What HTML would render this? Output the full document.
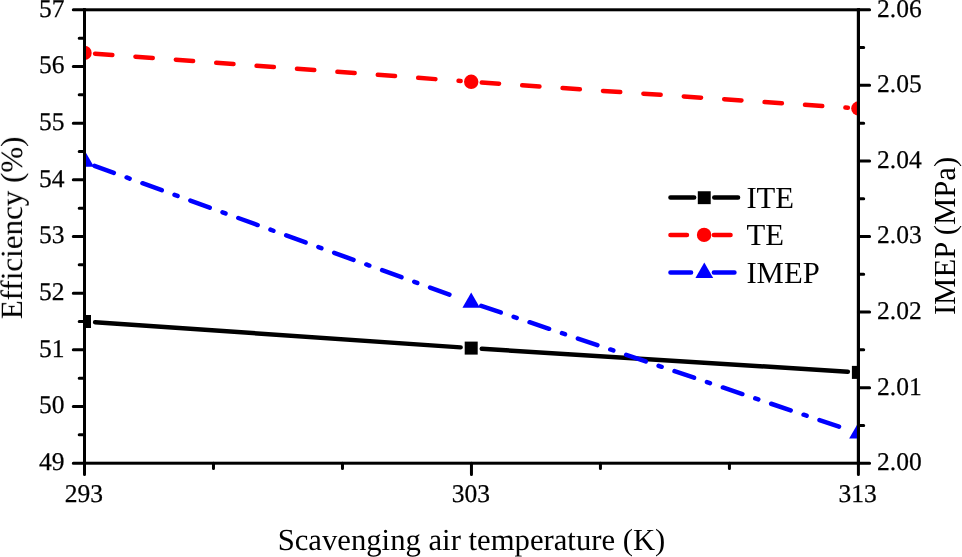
<!DOCTYPE html>
<html><head><meta charset="utf-8"><style>html,body{margin:0;padding:0;background:#fff;overflow:hidden}svg{display:block}g.t{filter:grayscale(1)}text{font-family:"Liberation Serif",serif;text-rendering:geometricPrecision}</style></head>
<body><svg width="962" height="557" viewBox="0 0 962 557"><rect x="0" y="0" width="962" height="557" fill="#fff"/>
<path d="M84.5 463.20H73.3 M84.5 434.86H79.2 M84.5 406.52H73.3 M84.5 378.19H79.2 M84.5 349.85H73.3 M84.5 321.51H79.2 M84.5 293.18H73.3 M84.5 264.84H79.2 M84.5 236.50H73.3 M84.5 208.16H79.2 M84.5 179.82H73.3 M84.5 151.49H79.2 M84.5 123.15H73.3 M84.5 94.81H79.2 M84.5 66.48H73.3 M84.5 38.14H79.2 M84.5 9.80H73.3 M858.4 463.20H869.6 M858.4 425.42H863.6999999999999 M858.4 387.63H869.6 M858.4 349.85H863.6999999999999 M858.4 312.07H869.6 M858.4 274.28H863.6999999999999 M858.4 236.50H869.6 M858.4 198.72H863.6999999999999 M858.4 160.93H869.6 M858.4 123.15H863.6999999999999 M858.4 85.37H869.6 M858.4 47.58H863.6999999999999 M858.4 9.80H869.6 M84.50 463.2V474.4 M471.45 463.2V474.4 M858.40 463.2V474.4 M213.48 463.2V468.5 M342.47 463.2V468.5 M600.43 463.2V468.5 M729.42 463.2V468.5" stroke="#000" stroke-width="3.0" stroke-linecap="round" fill="none"/>
<rect x="84.5" y="9.8" width="773.90" height="453.40" fill="none" stroke="#000" stroke-width="3.0"/>
<defs><clipPath id="pc"><rect x="84.5" y="9.8" width="773.90" height="453.40"/></clipPath></defs>
<g clip-path="url(#pc)">
<path d="M95.08 322.23L460.62 347.37" stroke="#000" stroke-width="4.5" stroke-linecap="round" fill="none"/>
<path d="M481.78 348.76L847.82 371.74" stroke="#000" stroke-width="4.5" stroke-linecap="round" fill="none"/>
<path d="M95.07 53.69L460.63 81.01" stroke="#f00" stroke-width="4.5" stroke-linecap="round" fill="none" stroke-dasharray="17.3 23.2"/>
<path d="M481.77 82.53L847.83 107.77" stroke="#f00" stroke-width="4.5" stroke-linecap="round" fill="none" stroke-dasharray="17.3 23.2"/>
<path d="M94.46 165.82L461.24 298.88" stroke="#00f" stroke-width="4.5" stroke-linecap="round" fill="none" stroke-dasharray="20.6 13.6 3.2 13.6"/>
<path d="M481.24 305.89L848.36 429.81" stroke="#00f" stroke-width="4.5" stroke-linecap="round" fill="none" stroke-dasharray="20.6 13.6 3.2 13.6"/>
<rect x="78.00" y="315.00" width="13.0" height="13.0" fill="#000"/>
<rect x="464.70" y="341.60" width="13.0" height="13.0" fill="#000"/>
<rect x="851.90" y="365.90" width="13.0" height="13.0" fill="#000"/>
<circle cx="84.5" cy="52.9" r="7.2" fill="#f00"/>
<circle cx="471.2" cy="81.8" r="7.2" fill="#f00"/>
<circle cx="858.4" cy="108.5" r="7.2" fill="#f00"/>
<path d="M84.50 150.30L94.03 166.80L74.97 166.80Z" fill="#00f"/>
<path d="M471.20 292.47L479.98 307.67L462.42 307.67Z" fill="#00f"/>
<path d="M858.40 422.50L867.64 438.50L849.16 438.50Z" fill="#00f"/>
</g>
<path d="M84.5 8.3V464.7M858.4 8.3V464.7" stroke="#000" stroke-width="3.0"/>
<g class="t" font-family="Liberation Serif" font-size="25.5" fill="#000" stroke="#000" stroke-width="0.25"><text x="64.4" y="470.10" text-anchor="end">49</text><text x="64.4" y="413.42" text-anchor="end">50</text><text x="64.4" y="356.75" text-anchor="end">51</text><text x="64.4" y="300.07" text-anchor="end">52</text><text x="64.4" y="243.40" text-anchor="end">53</text><text x="64.4" y="186.72" text-anchor="end">54</text><text x="64.4" y="130.05" text-anchor="end">55</text><text x="64.4" y="73.38" text-anchor="end">56</text><text x="64.4" y="16.70" text-anchor="end">57</text><text x="877" y="470.10">2.00</text><text x="877" y="394.53">2.01</text><text x="877" y="318.97">2.02</text><text x="877" y="243.40">2.03</text><text x="877" y="167.83">2.04</text><text x="877" y="92.27">2.05</text><text x="877" y="16.70">2.06</text><text x="83.80" y="502" text-anchor="middle">293</text><text x="470.75" y="502" text-anchor="middle">303</text><text x="857.70" y="502" text-anchor="middle">313</text></g>
<g class="t" font-family="Liberation Serif" font-size="30.7" fill="#000">
<text x="471.5" y="549.6" text-anchor="middle">Scavenging air temperature (K)</text>
<text transform="translate(22 227.9) rotate(-90)" text-anchor="middle" font-size="31">Efficiency (%)</text>
<text transform="translate(955 236) rotate(-90)" text-anchor="middle">IMEP (MPa)</text>
<text x="746.4" y="207.5">ITE</text><text x="746.4" y="245">TE</text><text x="746.4" y="283">IMEP</text>
</g>
<path d="M670.45 197.6H694.15M714.25 197.6H738.05" stroke="#000" stroke-width="4.5" stroke-linecap="round"/>
<rect x="697.8" y="191.25" width="12.9" height="12.9" fill="#000"/>
<path d="M670.45 234.9H686.95M713.85 234.9H730.55" stroke="#f00" stroke-width="4.5" stroke-linecap="round"/>
<circle cx="704.1" cy="234.9" r="7.2" fill="#f00"/>
<path d="M670.45 272.5H691.05M713.85 272.5H734.45" stroke="#00f" stroke-width="4.5" stroke-linecap="round"/>
<path d="M704.30 262.50L713.19 277.90L695.41 277.90Z" fill="#00f"/></svg></body></html>
